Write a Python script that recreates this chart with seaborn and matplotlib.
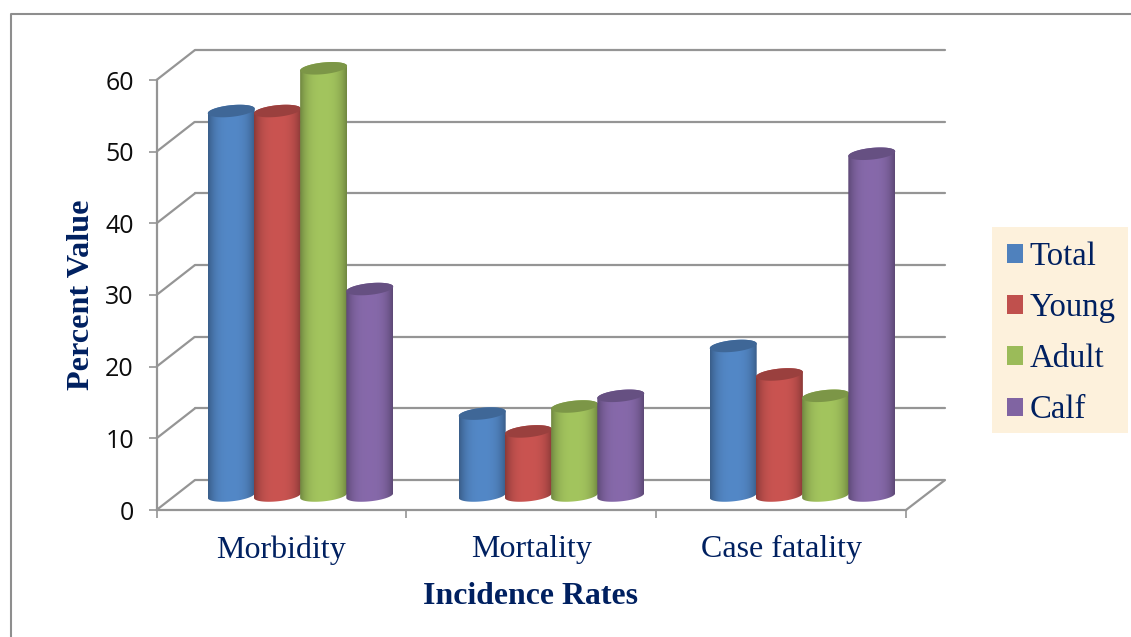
import numpy as np
import pandas as pd
import matplotlib
matplotlib.use("Agg")
import matplotlib.pyplot as plt
from matplotlib.lines import Line2D
from matplotlib.patches import Patch, Polygon, Rectangle
from matplotlib.path import Path
from matplotlib.transforms import Affine2D
import seaborn as sns

categories = ["Morbidity", "Mortality", "Case fatality"]
groups = ["Total", "Young", "Adult", "Calf"]
total = [54, 11.5, 21]
young = [54, 9, 17]
adult = [60, 12.5, 14]
calf = [29, 14, 48]
y_ticks = [0, 10, 20, 30, 40, 50, 60]
colors = ["#4F81BD", "#C0504D", "#9BBB59", "#8064A2"]

W, H = 1131, 637
DPI = 100
GRID = "#959595"
NAVY = "#002060"
SERIF = "Liberation Serif"

sns.set_theme(style="white")
plt.rcParams["font.family"] = [SERIF, "DejaVu Sans"]

fig = plt.figure(figsize=(W / DPI, H / DPI), dpi=DPI, facecolor="white")
px = Affine2D().scale(1 / W, -1 / H).translate(0, 1) + fig.transFigure


def box(left, top, right, bottom):
    return [left / W, 1 - bottom / H, (right - left) / W, (bottom - top) / H]


def frame_line(xs, ys, color=GRID, lw=1.6):
    fig.add_artist(Line2D(xs, ys, transform=px, color=color, lw=lw,
                          solid_capstyle="butt"))


# Outer chart border
frame_line([10.5, 10.5, W], [H, 14, 14], color="#8E8E8E", lw=1.5)

# Back wall with horizontal gridlines
ax_back = fig.add_axes(box(195, 50, 945, 480))
ax_back.set_ylim(0, 60)
ax_back.set_xlim(0, 3)
ax_back.set_yticks(y_ticks)
ax_back.set_xticks([])
ax_back.tick_params(left=False, labelleft=False)
ax_back.grid(axis="y", color=GRID, lw=1.6, clip_on=False)
for gridline in ax_back.get_ygridlines():
    gridline.set_clip_on(False)
ax_back.patch.set_visible(False)
sns.despine(ax=ax_back, left=True, bottom=True)

# Side wall and floor edges joining the front plane to the back wall
front_l, front_r, front_b, front_t = 156.5, 906, 510, 80
for value in y_ticks:
    f = value / 60
    frame_line([front_l, 195], [front_b + (front_t - front_b) * f,
                                480 + (50 - 480) * f])
frame_line([front_r, 945], [front_b, 480])

# Front plane carrying the axes, ticks and titles
ax = fig.add_axes(box(front_l, front_t, front_r, front_b))
ax.patch.set_visible(False)
ax.set_xlim(0, 3)
ax.set_ylim(0, 60)
ax.set_yticks(y_ticks)
ax.set_xticks([0, 1, 2, 3])
ax.set_xticklabels([])
ax.set_xticks([0.5, 1.5, 2.5], labels=categories, minor=True)
ax.tick_params(axis="x", which="major", bottom=True, length=5.8, width=1.2,
               color=GRID)
ax.tick_params(axis="x", which="minor", bottom=False, length=0, pad=18.2,
               labelsize=23, labelcolor=NAVY)
ax.tick_params(axis="y", left=True, length=5.8, width=1.2, color=GRID, pad=10.5,
               labelsize=18, labelcolor="#0c0c0c")
for label in ax.get_yticklabels():
    label.set_family("Open Sans")
sns.despine(ax=ax)
for side in ("left", "bottom"):
    ax.spines[side].set_color(GRID)
    ax.spines[side].set_linewidth(1.6)

fig.text(530.5 / W, 1 - 596 / H, "Incidence Rates", ha="center", va="center",
         fontsize=22.9, fontweight="bold", color=NAVY)
fig.text(82 / W, 1 - 295 / H, "Percent Value", ha="center", va="center",
         rotation=90, fontsize=23.2, fontweight="bold", color=NAVY)

# Bars stand on the middle of the floor, between front plane and back wall
bar_l, bar_r, bar_b, bar_t = 175, 928, 495.5, 68.3
ax_bars = fig.add_axes(box(bar_l, bar_t, bar_r, bar_b))
ax_bars.patch.set_visible(False)

table = pd.DataFrame({
    "category": np.repeat(categories, len(groups)),
    "group": groups * len(categories),
    "value": np.array([total, young, adult, calf]).T.ravel(),
})
sns.barplot(data=table, x="category", y="value", hue="group", hue_order=groups,
            order=categories, palette=colors, saturation=1, width=0.736, gap=0,
            errorbar=None, legend=False, ax=ax_bars)
ax_bars.set_xlim(-0.5, 2.5)
ax_bars.set_ylim(0, 60)
ax_bars.axis("off")

sx = (bar_r - bar_l) / 3
sy = (bar_b - bar_t) / 60
TILT = np.deg2rad(6)
SEMI_B = 5.8


def rim(cx, cy, half_w, t):
    """Points on a tilted elliptical rim, centred in data units."""
    dx = half_w * np.cos(t) * np.cos(TILT) - SEMI_B * np.sin(t) * np.sin(TILT)
    dy = half_w * np.cos(t) * np.sin(TILT) + SEMI_B * np.sin(t) * np.cos(TILT)
    return np.column_stack([cx + dx / sx, cy + dy / sy])


u = np.linspace(-1, 1, 160)
shade = 0.72 + 0.33 * np.clip(1 - np.abs(u) ** 3, 0, 1)

bars = sorted(ax_bars.patches, key=lambda p: p.get_x())
for order, bar in enumerate(bars):
    rgb = np.array(bar.get_facecolor()[:3])
    cx = bar.get_x() + bar.get_width() / 2
    value = bar.get_height()
    half_w = bar.get_width() * sx / 2 + 0.5
    lower = rim(cx, 0, half_w, np.linspace(np.pi, 2 * np.pi, 60))
    upper = rim(cx, value, half_w, np.linspace(0, np.pi, 60))
    body = np.vstack([lower, upper, lower[:1]])

    gradient = np.clip(rgb[None, None, :] * shade[None, :, None], 0, 1)
    image = ax_bars.imshow(
        gradient, aspect="auto", interpolation="bilinear",
        extent=(body[:, 0].min(), body[:, 0].max(), -1.5, value + 1.5),
        zorder=3 + order * 0.1,
    )
    image.set_clip_path(Path(body), ax_bars.transData)
    image.set_clip_box(fig.bbox)

    lid = rim(cx, value, half_w, np.linspace(0, 2 * np.pi, 80))
    ax_bars.add_patch(Polygon(lid, closed=True, facecolor=rgb * 0.8,
                              edgecolor="none", clip_on=False,
                              zorder=3.05 + order * 0.1))
    bar.set_visible(False)
ax_bars.set_xlim(-0.5, 2.5)
ax_bars.set_ylim(0, 60)

# Legend on its beige panel
fig.add_artist(Rectangle((992, 227), 136, 206, transform=px,
                         facecolor="#FDF1DC", edgecolor="none", zorder=0))
handles = [Patch(facecolor=c, edgecolor="none", label=g)
           for c, g in zip(colors, groups)]
fig.legend(handles=handles, loc="upper left", frameon=False,
           bbox_to_anchor=(1007 / W, 1 - 241.5 / H), borderaxespad=0, borderpad=0,
           fontsize=23.6, labelcolor=NAVY, handlelength=0.49, handleheight=0.49,
           handletextpad=0.2, labelspacing=0.63)

fig.savefig("out.png", dpi=DPI, facecolor="white")
